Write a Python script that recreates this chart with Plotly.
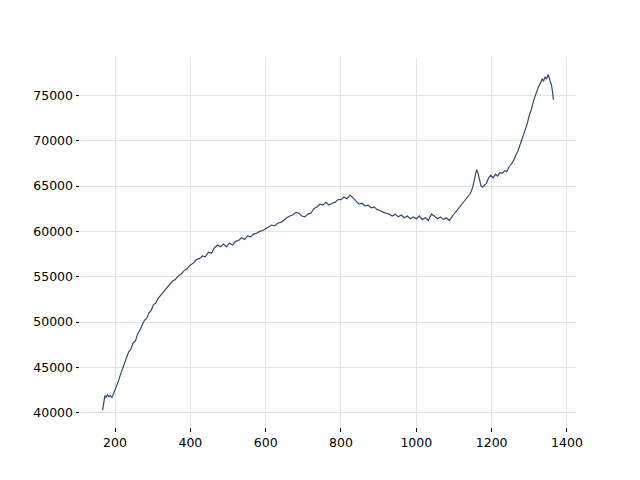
import plotly.graph_objects as go

x_vals = [167, 170, 173, 176, 180, 184, 188, 192, 196, 200, 205, 210, 215, 220, 225, 230,
          236, 242, 248, 254, 260, 266, 272, 278, 284, 290, 296, 302, 308, 314, 320, 328,
          336, 344, 352, 360, 368, 376, 384, 392, 400, 408, 416, 424, 432, 440, 448, 456,
          464, 472, 480, 488, 496, 504, 512, 520, 528, 536, 544, 552, 560, 568, 576, 584,
          592, 600, 608, 616, 624, 632, 640, 648, 656, 664, 672, 680, 688, 696, 704, 712,
          720, 728, 736, 744, 752, 760, 768, 776, 784, 792, 800, 808, 816, 824, 832, 840,
          848, 856, 864, 872, 880, 888, 896, 904, 912, 920, 928, 936, 944, 952, 960, 968,
          976, 984, 992, 1000, 1008, 1016, 1024, 1032, 1040, 1048, 1056, 1064, 1072, 1080,
          1088, 1096, 1104, 1112, 1120, 1128, 1136, 1144, 1150, 1155, 1160, 1164, 1168, 1172,
          1176, 1180, 1186, 1192, 1198, 1204, 1210, 1216, 1222, 1228, 1234, 1240, 1246, 1252,
          1258, 1264, 1270, 1276, 1282, 1288, 1294, 1300, 1306, 1312, 1318, 1324, 1330, 1334,
          1338, 1342, 1346, 1350, 1353, 1356, 1359, 1362, 1364]

y_vals = [40300, 41200, 41900, 41700, 42000, 41750, 41900, 41700, 42100, 42500, 43200, 43600,
          44300, 44900, 45600, 46000, 46700, 47000, 47700, 47900, 48700, 49100, 49600, 50200,
          50400, 51000, 51300, 51900, 52100, 52600, 52900, 53300, 53700, 54000, 54500, 54700,
          55100, 55300, 55700, 55900, 56300, 56500, 56900, 57000, 57300, 57200, 57700, 57600,
          58200, 58500, 58300, 58600, 58300, 58700, 58500, 58900, 59000, 59300, 59100, 59500,
          59400, 59700, 59800, 60000, 60100, 60300, 60500, 60700, 60600, 60900, 61000, 61200,
          61500, 61700, 61800, 62100, 62000, 61700, 61600, 61900, 62000, 62500, 62700, 63000,
          62900, 63200, 62900, 63100, 63200, 63500, 63500, 63800, 63600, 64000, 63700, 63300,
          63000, 63100, 62800, 62900, 62600, 62700, 62400, 62300, 62100, 62000, 61900, 61700,
          61900, 61600, 61800, 61500, 61700, 61400, 61600, 61400, 61700, 61300, 61500, 61200,
          61900, 61700, 61400, 61600, 61300, 61500, 61200, 61700, 62100, 62500, 62900, 63300,
          63700, 64200, 64900, 65900, 66800, 66400, 65500, 65000, 64900, 65100, 65300, 65900,
          66200, 65900, 66300, 66100, 66500, 66400, 66700, 66600, 67100, 67400, 67800, 68400,
          68900, 69600, 70300, 71000, 71800, 72800, 73500, 74500, 75300, 75900, 76400, 76800,
          76600, 77000, 76800, 77300, 76900, 76500, 76100, 75300, 74500]

x_ticks = [200, 400, 600, 800, 1000, 1200, 1400]
y_ticks = [40000, 45000, 50000, 55000, 60000, 65000, 70000, 75000]

fig = go.Figure()
fig.add_trace(go.Scatter(x=x_vals, y=y_vals, mode="lines",
                         line=dict(color="#2f4a6d", width=1.2), showlegend=False))

axis_common = dict(showline=False, zeroline=False, showgrid=True,
                   gridcolor="#e3e3e3", gridwidth=1.2,
                   ticks="outside", ticklen=3.5, tickwidth=0.8, tickcolor="black",
                   tickfont=dict(family="DejaVu Sans", size=12.5, color="black"))

# page body has an 8px default margin, so margins are offset by 8px
fig.update_layout(
    width=640, height=480,
    margin=dict(l=72, r=72, t=50, b=61),
    paper_bgcolor="white", plot_bgcolor="white",
    xaxis=dict(range=[107, 1424], tickvals=x_ticks,
               ticktext=[str(v) for v in x_ticks], **axis_common),
    yaxis=dict(range=[38437, 79115], tickvals=y_ticks,
               ticktext=[str(v) for v in y_ticks], **axis_common),
)

fig.write_html("out.html")
